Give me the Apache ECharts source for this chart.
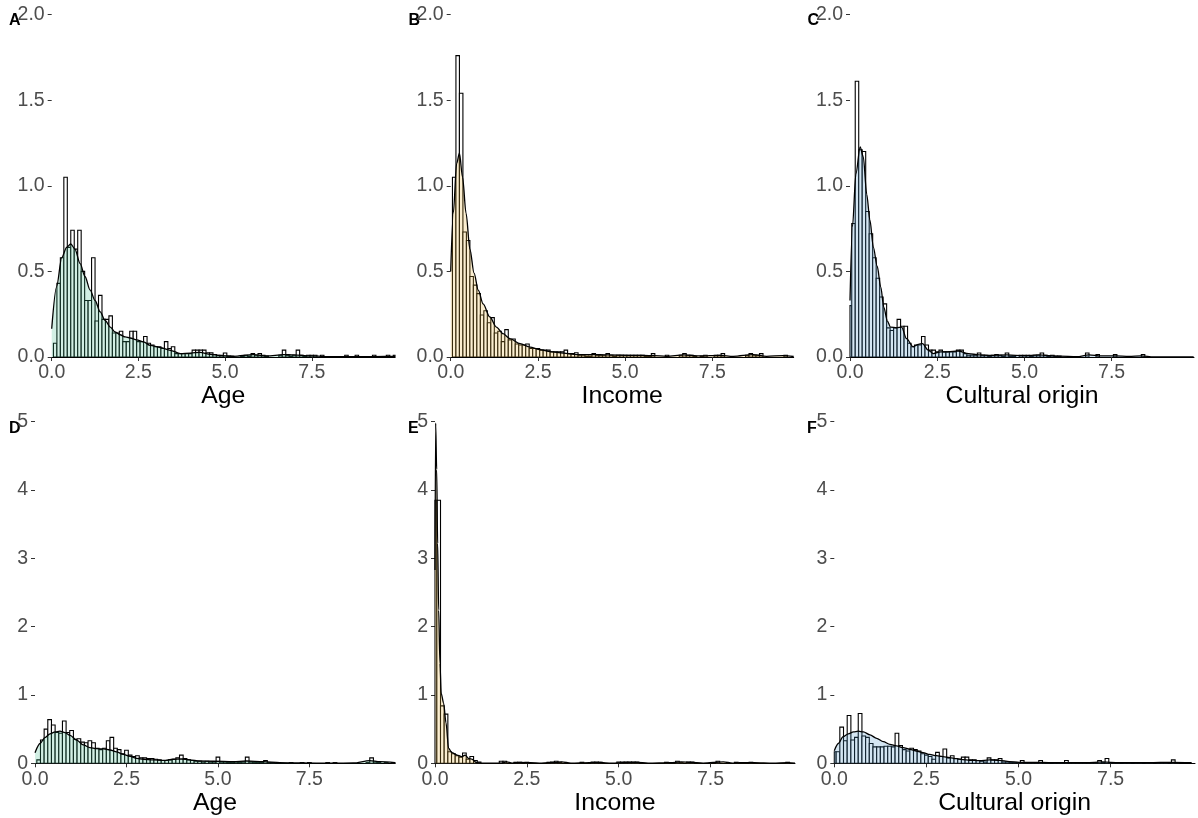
<!DOCTYPE html>
<html>
<head>
<meta charset="utf-8">
<script src="https://cdn.jsdelivr.net/npm/echarts@6/dist/echarts.min.js"></script>
<style>
html,body{margin:0;padding:0;background:#fff;}
#chart{width:1198px;height:818px;}
</style>
</head>
<body>
<div id="chart"></div>
<script>
// ---------- data ----------
const panelLetters = ['A', 'B', 'C', 'D', 'E', 'F'];
const xTitles = ['Age', 'Income', 'Cultural origin', 'Age', 'Income', 'Cultural origin'];
const xTicks = [0, 2.5, 5, 7.5];
const yTicksTop = [0, 0.5, 1, 1.5, 2];
const yTicksBottom = [0, 1, 2, 3, 4, 5];
const BIN_WIDTH = 0.1; // bin k is centred on k * BIN_WIDTH

// histogram heights (density scale), bin k centred at 0.1*k
const histA = [0, 0.08, 0.43, 0.58, 1.05, 0.64, 0.74, 0.63, 0.74, 0.50,
  0.33, 0.33, 0.58, 0.21, 0.36, 0.22, 0.22, 0.24, 0.14, 0.14,
  0.15, 0.09, 0.09, 0.15, 0.15, 0.09, 0.09, 0.12, 0.08, 0.07,
  0.06, 0.06, 0.05, 0.09, 0.05, 0.06, 0.02, 0.02, 0.02, 0.02,
  0.02, 0.04, 0.04, 0.04, 0.04, 0.025, 0.025, 0.015, 0.01, 0.01,
  0.023, 0.005, 0.005, 0, 0, 0.005, 0.01, 0.005, 0.02, 0.01,
  0.02, 0.01, 0.005, 0, 0, 0, 0.01, 0.04, 0.01, 0.005,
  0.01, 0.04, 0.01, 0.005, 0.01, 0.01, 0.01, 0, 0.01, 0,
  0, 0, 0, 0, 0, 0.01, 0, 0, 0.01, 0,
  0, 0, 0, 0.01, 0, 0, 0, 0.01, 0, 0.01];
const histB = [0, 1.05, 1.76, 1.54, 0.73, 0.68, 0.47, 0.42, 0.37, 0.245,
  0.27, 0.20, 0.23, 0.14, 0.15, 0.09, 0.16, 0.10, 0.105, 0.076,
  0.07, 0.07, 0.076, 0.05, 0.05, 0.05, 0.04, 0.04, 0.04, 0.03,
  0.03, 0.03, 0.03, 0.04, 0.02, 0.02, 0.025, 0.01, 0.01, 0.005,
  0.005, 0.02, 0.01, 0.01, 0.01, 0.02, 0.01, 0.005, 0.01, 0.01,
  0.01, 0.01, 0.01, 0.01, 0.01, 0.01, 0.005, 0.005, 0.02, 0,
  0, 0, 0.01, 0, 0, 0, 0.01, 0.02, 0.01, 0.01,
  0.005, 0, 0.005, 0.01, 0, 0, 0.01, 0.01, 0.02, 0,
  0, 0, 0, 0, 0, 0.01, 0.02, 0.01, 0.01, 0.02,
  0, 0, 0, 0, 0, 0, 0.01, 0, 0];
const histC = [0.30, 0.78, 1.61, 1.21, 1.20, 0.85, 0.72, 0.58, 0.46, 0.35,
  0.31, 0.17, 0.155, 0.17, 0.22, 0.18, 0.18, 0.08, 0.06, 0.07,
  0.07, 0.12, 0.07, 0.04, 0.04, 0.03, 0.04, 0.03, 0.03, 0.03,
  0.03, 0.04, 0.04, 0.02, 0.01, 0.01, 0.01, 0.023, 0.01, 0.01,
  0.005, 0.01, 0.015, 0.01, 0.005, 0.023, 0.005, 0.005, 0, 0.01,
  0.01, 0.01, 0.005, 0.01, 0.01, 0.023, 0.01, 0.005, 0.01, 0.005,
  0.005, 0, 0, 0, 0, 0, 0, 0, 0.023, 0,
  0, 0.015, 0, 0, 0, 0, 0.015, 0, 0, 0,
  0, 0, 0, 0, 0.015, 0, 0, 0, 0, 0,
  0, 0, 0, 0, 0, 0, 0, 0, 0];
const histD = [0, 0.05, 0.34, 0.50, 0.64, 0.56, 0.45, 0.44, 0.62, 0.45,
  0.48, 0.35, 0.36, 0.31, 0.30, 0.33, 0.30, 0.22, 0.20, 0.22,
  0.33, 0.38, 0.22, 0.20, 0.14, 0.19, 0.12, 0.10, 0.11, 0.08,
  0.08, 0.07, 0.07, 0.06, 0.05, 0.04, 0.04, 0.05, 0.06, 0.08,
  0.12, 0.07, 0.05, 0.04, 0.03, 0.03, 0.02, 0.03, 0.02, 0.02,
  0.09, 0.02, 0.02, 0.01, 0.01, 0.02, 0.01, 0.02, 0.09, 0.02,
  0.01, 0.01, 0.01, 0.04, 0.01, 0.01, 0, 0, 0, 0,
  0.01, 0, 0, 0.01, 0, 0.01, 0, 0, 0, 0,
  0.01, 0, 0.01, 0, 0, 0, 0, 0, 0, 0,
  0, 0.01, 0.08, 0.02, 0.01, 0, 0.01, 0, 0.01];
const histE = [3.85, 3.85, 0.84, 0.72, 0.17, 0.14, 0.11, 0.09, 0.15, 0.06,
  0.10, 0.04, 0.02, 0, 0, 0, 0, 0, 0.03, 0.03,
  0, 0, 0.015, 0.015, 0, 0.015, 0, 0, 0, 0,
  0, 0.015, 0.02, 0.03, 0.015, 0, 0, 0, 0, 0,
  0.015, 0, 0, 0.02, 0.02, 0.015, 0, 0, 0, 0,
  0.02, 0.02, 0.02, 0.02, 0.02, 0.02, 0, 0, 0, 0,
  0, 0, 0, 0.015, 0, 0, 0.03, 0.01, 0, 0.02,
  0.02, 0, 0, 0, 0, 0, 0, 0.03, 0, 0,
  0, 0, 0.015, 0, 0, 0, 0.015, 0, 0, 0,
  0, 0, 0, 0, 0, 0, 0.015, 0, 0];
const histF = [0.17, 0.17, 0.53, 0.33, 0.70, 0.34, 0.38, 0.73, 0.40, 0.38,
  0.29, 0.24, 0.24, 0.24, 0.25, 0.25, 0.24, 0.44, 0.26, 0.20,
  0.18, 0.22, 0.20, 0.18, 0.14, 0.12, 0.10, 0.06, 0.16, 0.10,
  0.21, 0.08, 0.11, 0.07, 0.06, 0.09, 0.09, 0.05, 0.05, 0.04,
  0.03, 0.02, 0.08, 0.05, 0.05, 0.07, 0.02, 0.02, 0.01, 0.01,
  0.01, 0.04, 0.01, 0.01, 0.01, 0.01, 0.04, 0.01, 0.01, 0,
  0.01, 0.01, 0.01, 0.04, 0.01, 0.01, 0.01, 0.01, 0.01, 0.01,
  0.01, 0.01, 0.04, 0.01, 0.07, 0.01, 0.01, 0.01, 0, 0.01,
  0.01, 0, 0.01, 0.01, 0, 0.01, 0.01, 0, 0.01, 0.01,
  0.01, 0, 0.05, 0.01, 0, 0, 0, 0];

// kernel density curves: [x, density]
const densA = [[0,0.165],[0.14,0.41],[0.29,0.58],[0.43,0.64],[0.55,0.66],[0.67,0.63],[0.82,0.545],[0.96,0.47],[1.11,0.39],[1.25,0.33],[1.4,0.263],[1.54,0.214],[1.69,0.175],[1.83,0.146],[1.97,0.13],[2.12,0.117],[2.26,0.111],[2.45,0.1],[2.65,0.088],[2.84,0.068],[3.13,0.055],[3.42,0.039],[3.71,0.02],[4.0,0.023],[4.28,0.027],[4.57,0.016],[4.86,0.008],[5.24,0.004],[5.82,0.014],[6.2,0.006],[6.69,0.014],[6.98,0.012],[7.46,0.006],[8.13,0.002],[9.0,0.002],[9.6,0.003],[9.9,0.003]];
const densB = [[0,0.5],[0.075,0.84],[0.17,1.13],[0.25,1.19],[0.34,1.05],[0.44,0.84],[0.55,0.63],[0.67,0.49],[0.79,0.39],[0.93,0.31],[1.12,0.234],[1.31,0.175],[1.5,0.136],[1.7,0.107],[1.99,0.078],[2.27,0.058],[2.56,0.043],[2.85,0.031],[3.23,0.023],[3.61,0.014],[4.09,0.014],[4.47,0.012],[5.23,0.01],[5.8,0.008],[6.19,0.004],[6.67,0.012],[7.14,0.006],[7.72,0.01],[8.1,0.004],[8.67,0.014],[9.05,0.004],[9.53,0.008],[9.83,0.003]];
const densC = [[0,0.33],[0.07,0.76],[0.17,1.07],[0.29,1.227],[0.38,1.17],[0.48,0.95],[0.57,0.8],[0.67,0.64],[0.78,0.53],[0.88,0.41],[0.97,0.29],[1.07,0.21],[1.16,0.175],[1.34,0.17],[1.48,0.175],[1.62,0.107],[1.81,0.06],[1.96,0.074],[2.08,0.078],[2.24,0.04],[2.39,0.02],[2.6,0.03],[2.8,0.03],[3.1,0.035],[3.4,0.02],[3.7,0.012],[4.0,0.01],[4.5,0.012],[5.0,0.008],[5.4,0.012],[6.0,0.005],[6.5,0.002],[6.85,0.012],[7.2,0.006],[7.6,0.007],[8.0,0.003],[8.35,0.007],[8.7,0.001],[9.85,0]];
const densD = [[0,0.156],[0.14,0.29],[0.27,0.376],[0.41,0.43],[0.55,0.46],[0.68,0.47],[0.82,0.45],[0.96,0.41],[1.14,0.34],[1.32,0.27],[1.5,0.23],[1.68,0.215],[1.87,0.21],[2.05,0.195],[2.23,0.166],[2.41,0.13],[2.6,0.1],[2.78,0.073],[2.96,0.059],[3.23,0.05],[3.51,0.044],[3.78,0.059],[4.0,0.063],[4.23,0.05],[4.5,0.034],[4.87,0.03],[5.42,0.024],[5.78,0.034],[6.24,0.024],[6.69,0.01],[7.24,0.005],[8.15,0.002],[8.7,0.005],[9.15,0.04],[9.43,0.025],[9.84,0.01]];
const densE = [[0,2.83],[0.018,4.98],[0.045,4.3],[0.072,3.22],[0.1,2.24],[0.135,1.46],[0.17,1.02],[0.235,0.88],[0.3,0.59],[0.37,0.22],[0.46,0.156],[0.6,0.12],[0.73,0.098],[0.82,0.12],[0.91,0.073],[1.0,0.06],[1.14,0.01],[1.3,0.003],[1.8,0.003],[1.95,0.02],[2.1,0.004],[2.35,0.012],[2.6,0.008],[2.9,0.002],[3.3,0.015],[3.45,0.02],[3.7,0.003],[4.2,0.01],[4.5,0.012],[4.8,0.003],[5.2,0.012],[5.5,0.015],[5.8,0.003],[6.4,0.01],[6.7,0.02],[6.95,0.015],[7.3,0.003],[7.85,0.02],[8.1,0.003],[8.3,0.01],[8.7,0.01],[9.2,0.002],[9.6,0.01],[9.8,0.003]];
const densF = [[0,0.185],[0.11,0.29],[0.24,0.39],[0.38,0.43],[0.52,0.46],[0.65,0.47],[0.79,0.46],[0.97,0.415],[1.15,0.366],[1.33,0.317],[1.51,0.278],[1.69,0.254],[1.87,0.23],[2.05,0.205],[2.23,0.18],[2.41,0.156],[2.59,0.13],[2.77,0.112],[2.95,0.098],[3.13,0.083],[3.31,0.068],[3.49,0.054],[3.67,0.044],[3.94,0.039],[4.21,0.049],[4.48,0.044],[4.75,0.024],[5.02,0.015],[5.38,0.015],[5.92,0.01],[6.29,0.01],[6.83,0.01],[7.28,0.02],[7.73,0.01],[8.54,0.01],[9.17,0.015],[9.7,0.01]];

const hists = [histA, histB, histC, histD, histE, histF];
const dens = [densA, densB, densC, densD, densE, densF];

// ---------- layout / style ----------
const fills = ['rgba(60,185,140,0.33)', 'rgba(238,180,50,0.33)', 'rgba(70,145,205,0.33)',
               'rgba(60,185,140,0.33)', 'rgba(238,180,50,0.33)', 'rgba(70,145,205,0.33)'];
const grids = [
  {left: 51.7, top: 14.5, width: 343.3, height: 342.5, xMax: 9.9, yMax: 2},
  {left: 450.7, top: 14.5, width: 343, height: 342.5, xMax: 9.83, yMax: 2},
  {left: 850, top: 14.5, width: 344, height: 342.5, xMax: 9.86, yMax: 2},
  {left: 35, top: 421.7, width: 360, height: 341.6, xMax: 9.84, yMax: 5},
  {left: 435, top: 421.7, width: 360, height: 341.6, xMax: 9.8, yMax: 5},
  {left: 834.3, top: 421.7, width: 360.7, height: 341.6, xMax: 9.79, yMax: 5}
];
const letterPos = [[9, 21], [408.5, 21], [807.5, 21], [9, 429.5], [408, 429.5], [807, 429.5]];
const FONT = '"Liberation Sans", Arial, Helvetica, sans-serif';

const option = {
  animation: false,
  backgroundColor: '#fff',
  grid: [], xAxis: [], yAxis: [], series: [], graphic: []
};

grids.forEach((g, i) => {
  const top = i < 3;
  option.grid.push({left: g.left, top: g.top, width: g.width, height: g.height, containLabel: false});
  option.xAxis.push({
    type: 'value', gridIndex: i, min: 0, max: g.xMax,
    name: xTitles[i], nameLocation: 'middle', nameGap: 24,
    nameTextStyle: {fontSize: 24.8, color: '#000', fontFamily: FONT},
    axisLine: {show: true, onZero: false, lineStyle: {color: '#000', width: 1}},
    axisTick: {show: true, length: 4, customValues: xTicks, lineStyle: {color: '#333', width: 1}},
    axisLabel: {show: true, customValues: xTicks, margin: 6, fontSize: 19.5, color: '#4d4d4d', fontFamily: FONT,
                formatter: v => v.toFixed(1)},
    splitLine: {show: false}
  });
  option.yAxis.push({
    type: 'value', gridIndex: i, min: 0, max: g.yMax, interval: top ? 0.5 : 1,
    axisLine: {show: false},
    axisTick: {show: true, length: 4, lineStyle: {color: '#333', width: 1}},
    axisLabel: {show: true, margin: 7, fontSize: 19.5, color: '#4d4d4d', fontFamily: FONT,
                formatter: v => top ? v.toFixed(1) : String(Math.round(v))},
    splitLine: {show: false}
  });
  const barData = [];
  hists[i].forEach((v, k) => {
    const x0 = Math.max(0, k * BIN_WIDTH - BIN_WIDTH / 2);
    const x1 = Math.min(g.xMax, k * BIN_WIDTH + BIN_WIDTH / 2);
    if (v > 0 && x0 < g.xMax) barData.push([x0, x1, v]);
  });
  option.series.push({
    type: 'custom', xAxisIndex: i, yAxisIndex: i, z: 2,
    encode: {x: [0, 1], y: 2},
    data: barData,
    renderItem: function (params, api) {
      const p0 = api.coord([api.value(0), api.value(2)]);
      const p1 = api.coord([api.value(1), 0]);
      return {
        type: 'rect',
        shape: {x: p0[0], y: p0[1], width: p1[0] - p0[0], height: p1[1] - p0[1]},
        style: {fill: '#ffffff', stroke: '#000000', lineWidth: 1.1}
      };
    }
  });
  option.series.push({
    type: 'line', xAxisIndex: i, yAxisIndex: i, z: 3,
    data: dens[i], showSymbol: false, symbol: 'none',
    smooth: 0.3, smoothMonotone: 'x',
    lineStyle: {color: '#000', width: 1.3},
    areaStyle: {color: fills[i], origin: 'start'}
  });
  option.graphic.push({
    type: 'text', left: letterPos[i][0], top: letterPos[i][1] - 8.5,
    style: {text: panelLetters[i], fontSize: 16, fontWeight: 'bold', fill: '#000', fontFamily: FONT}
  });
});

const chart = echarts.init(document.getElementById('chart'), null, {renderer: 'canvas'});
chart.setOption(option);
</script>
</body>
</html>
